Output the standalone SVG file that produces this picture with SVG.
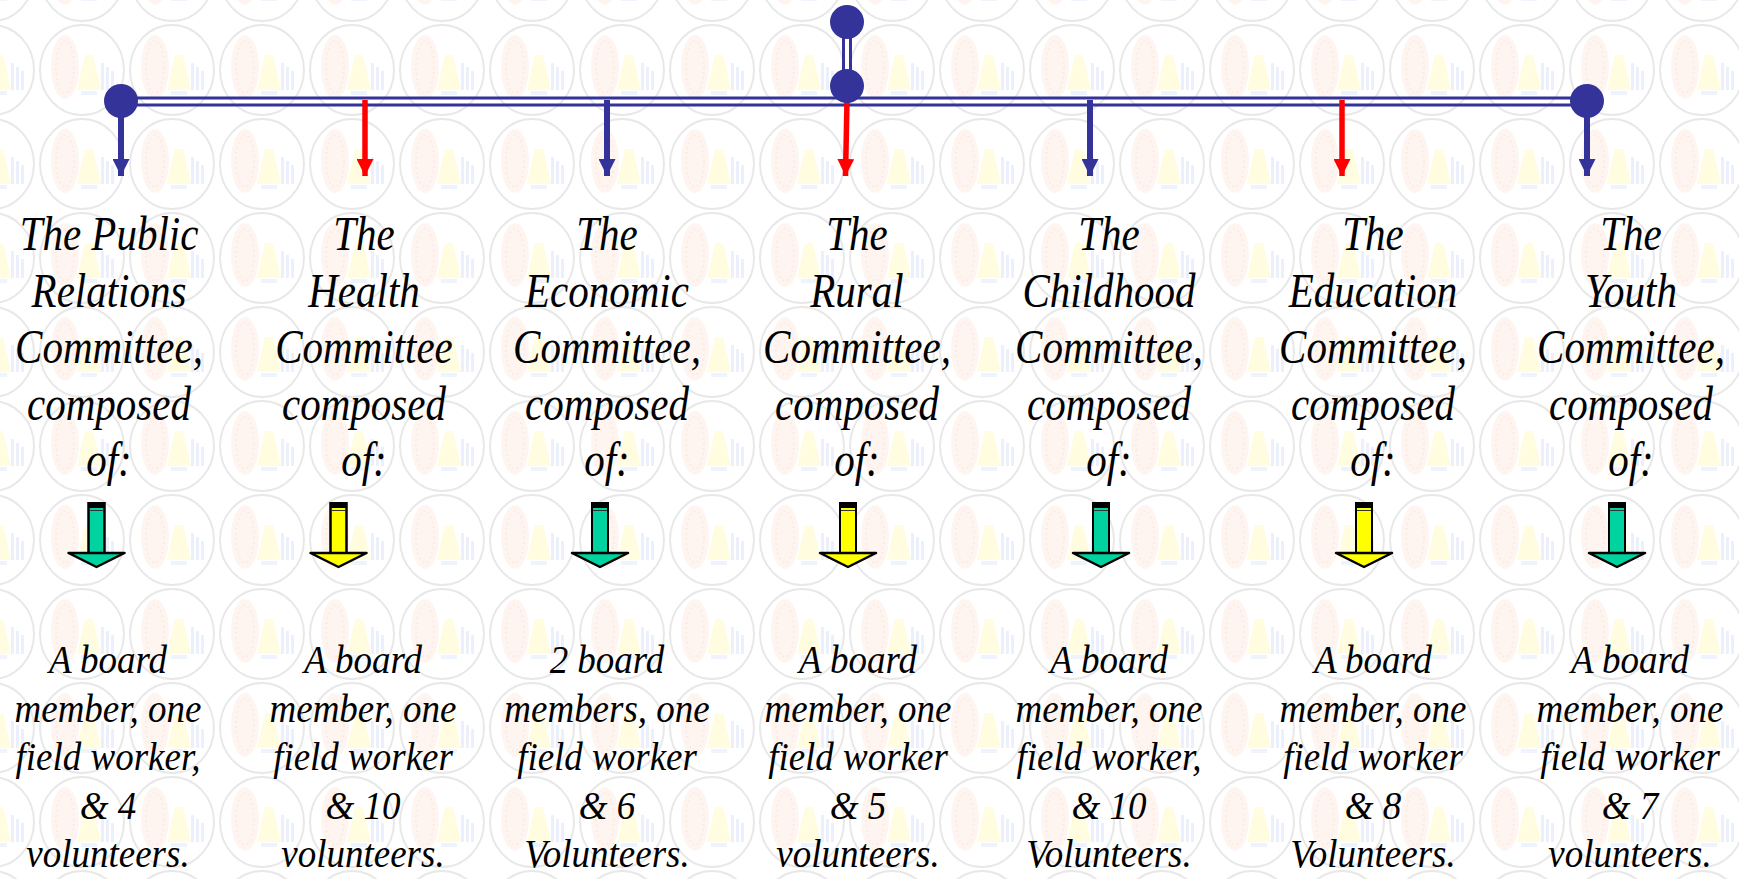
<svg xmlns="http://www.w3.org/2000/svg" width="1739" height="879" viewBox="0 0 1739 879">
<defs>
<pattern id="wm" patternUnits="userSpaceOnUse" x="37" y="23" width="90" height="94">
<ellipse cx="45" cy="47" rx="42" ry="45" fill="none" stroke="#e8e8e8" stroke-width="2"/>
<g opacity="0.4">
<ellipse cx="28" cy="44" rx="14" ry="32" fill="#fde6dc"/>
<ellipse cx="28" cy="44" rx="9" ry="26" fill="none" stroke="#f8cdbd" stroke-width="2" stroke-dasharray="2 3"/>
<polygon points="48,32 56,32 64,67 40,67" fill="#fff6b0"/>
<rect x="64" y="40" width="3" height="27" fill="#cfdaf8"/>
<rect x="69" y="44" width="3" height="23" fill="#cfdaf8"/>
<rect x="74" y="48" width="3" height="19" fill="#cfdaf8"/>
<rect x="44" y="68" width="16" height="4" fill="#d5e0f8"/>
</g>
</pattern>
<marker id="hb" viewBox="0 0 17 17" refX="17" refY="8.5" markerWidth="17" markerHeight="17" markerUnits="userSpaceOnUse" orient="auto">
<path d="M0,0 L17,8.5 L0,17 Z" fill="#333399"/>
</marker>
<marker id="hr" viewBox="0 0 17 17" refX="17" refY="8.5" markerWidth="17" markerHeight="17" markerUnits="userSpaceOnUse" orient="auto">
<path d="M0,0 L17,8.5 L0,17 Z" fill="#ff0000"/>
</marker>
<g id="fat">
<rect x="-8" y="0" width="16" height="51" stroke="#000" stroke-width="2"/>
<polygon points="-28,50 28,50 0,64" stroke="#000" stroke-width="2.5" stroke-linejoin="round"/>
<rect x="-8" y="0" width="16" height="50" fill="none" stroke="#000" stroke-width="2"/>
<rect x="-8" y="0" width="16" height="5" fill="#000"/>
<line x1="-7" y1="7.5" x2="7" y2="7.5" stroke="#333" stroke-width="1"/>
</g>
</defs>
<style>
.up{font-family:"Liberation Serif",serif;font-style:italic;font-size:41px;fill:#000;text-anchor:middle}
.lo{font-family:"Liberation Serif",serif;font-style:italic;font-size:37px;fill:#000;text-anchor:middle}
.bl{stroke:#333399;stroke-width:6;fill:none}
.rd{stroke:#ff0000;stroke-width:5.5;fill:none}
.dl{stroke:#333399;stroke-width:3;fill:none}
.dot{fill:#333399}
.g{fill:#00d2a0}
.y{fill:#ffff00}
</style>
<rect width="1739" height="879" fill="#ffffff"/>
<rect width="1739" height="879" fill="url(#wm)"/>

<g id="connectors">
<line class="dl" x1="121" y1="98" x2="1587" y2="98"/>
<line class="dl" x1="121" y1="105" x2="1587" y2="105"/>
<line class="dl" x1="843.5" y1="22" x2="843.5" y2="86"/>
<line class="dl" x1="850.5" y1="22" x2="850.5" y2="86"/>
<line class="bl" x1="121" y1="101" x2="121" y2="176" marker-end="url(#hb)"/>
<line class="rd" x1="365" y1="100" x2="365" y2="176" marker-end="url(#hr)"/>
<line class="bl" x1="607" y1="100" x2="607" y2="176" marker-end="url(#hb)"/>
<line class="rd" x1="847" y1="100" x2="845.5" y2="176" marker-end="url(#hr)"/>
<line class="bl" x1="1090" y1="100" x2="1090" y2="176" marker-end="url(#hb)"/>
<line class="rd" x1="1342" y1="100" x2="1342" y2="176" marker-end="url(#hr)"/>
<line class="bl" x1="1587" y1="101" x2="1587" y2="176" marker-end="url(#hb)"/>
<circle class="dot" cx="121" cy="101" r="17"/>
<circle class="dot" cx="1587" cy="101" r="17"/>
<circle class="dot" cx="847" cy="22" r="17"/>
<circle class="dot" cx="847" cy="86" r="17"/>
</g>

<g id="fat-arrows">
<use href="#fat" class="g" x="96.5" y="503"/>
<use href="#fat" class="y" x="338.5" y="503"/>
<use href="#fat" class="g" x="600" y="503"/>
<use href="#fat" class="y" x="848" y="503"/>
<use href="#fat" class="g" x="1101" y="503"/>
<use href="#fat" class="y" x="1364" y="503"/>
<use href="#fat" class="g" x="1617" y="503"/>
</g>

<g id="node-public-relations">
<text class="up" transform="translate(109,250) scale(1,1.17)"><tspan x="0" y="0">The Public</tspan><tspan x="0" dy="48.3">Relations</tspan><tspan x="0" dy="48.3">Committee,</tspan><tspan x="0" dy="48.3">composed</tspan><tspan x="0" dy="48.3">of:</tspan></text>
<text class="lo" transform="translate(108,673) scale(1,1.06)"><tspan x="0" y="0">A board</tspan><tspan x="0" dy="45.8">member, one</tspan><tspan x="0" dy="45.8">field worker,</tspan><tspan x="0" dy="45.8">&amp; 4</tspan><tspan x="0" dy="45.8">volunteers.</tspan></text>
</g>

<g id="node-health">
<text class="up" transform="translate(364,250) scale(1,1.17)"><tspan x="0" y="0">The</tspan><tspan x="0" dy="48.3">Health</tspan><tspan x="0" dy="48.3">Committee</tspan><tspan x="0" dy="48.3">composed</tspan><tspan x="0" dy="48.3">of:</tspan></text>
<text class="lo" transform="translate(363,673) scale(1,1.06)"><tspan x="0" y="0">A board</tspan><tspan x="0" dy="45.8">member, one</tspan><tspan x="0" dy="45.8">field worker</tspan><tspan x="0" dy="45.8">&amp; 10</tspan><tspan x="0" dy="45.8">volunteers.</tspan></text>
</g>

<g id="node-economic">
<text class="up" transform="translate(607,250) scale(1,1.17)"><tspan x="0" y="0">The</tspan><tspan x="0" dy="48.3">Economic</tspan><tspan x="0" dy="48.3">Committee,</tspan><tspan x="0" dy="48.3">composed</tspan><tspan x="0" dy="48.3">of:</tspan></text>
<text class="lo" transform="translate(607,673) scale(1,1.06)"><tspan x="0" y="0">2 board</tspan><tspan x="0" dy="45.8">members, one</tspan><tspan x="0" dy="45.8">field worker</tspan><tspan x="0" dy="45.8">&amp; 6</tspan><tspan x="0" dy="45.8">Volunteers.</tspan></text>
</g>

<g id="node-rural">
<text class="up" transform="translate(857,250) scale(1,1.17)"><tspan x="0" y="0">The</tspan><tspan x="0" dy="48.3">Rural</tspan><tspan x="0" dy="48.3">Committee,</tspan><tspan x="0" dy="48.3">composed</tspan><tspan x="0" dy="48.3">of:</tspan></text>
<text class="lo" transform="translate(858,673) scale(1,1.06)"><tspan x="0" y="0">A board</tspan><tspan x="0" dy="45.8">member, one</tspan><tspan x="0" dy="45.8">field worker</tspan><tspan x="0" dy="45.8">&amp; 5</tspan><tspan x="0" dy="45.8">volunteers.</tspan></text>
</g>

<g id="node-childhood">
<text class="up" transform="translate(1109,250) scale(1,1.17)"><tspan x="0" y="0">The</tspan><tspan x="0" dy="48.3">Childhood</tspan><tspan x="0" dy="48.3">Committee,</tspan><tspan x="0" dy="48.3">composed</tspan><tspan x="0" dy="48.3">of:</tspan></text>
<text class="lo" transform="translate(1109,673) scale(1,1.06)"><tspan x="0" y="0">A board</tspan><tspan x="0" dy="45.8">member, one</tspan><tspan x="0" dy="45.8">field worker,</tspan><tspan x="0" dy="45.8">&amp; 10</tspan><tspan x="0" dy="45.8">Volunteers.</tspan></text>
</g>

<g id="node-education">
<text class="up" transform="translate(1373,250) scale(1,1.17)"><tspan x="0" y="0">The</tspan><tspan x="0" dy="48.3">Education</tspan><tspan x="0" dy="48.3">Committee,</tspan><tspan x="0" dy="48.3">composed</tspan><tspan x="0" dy="48.3">of:</tspan></text>
<text class="lo" transform="translate(1373,673) scale(1,1.06)"><tspan x="0" y="0">A board</tspan><tspan x="0" dy="45.8">member, one</tspan><tspan x="0" dy="45.8">field worker</tspan><tspan x="0" dy="45.8">&amp; 8</tspan><tspan x="0" dy="45.8">Volunteers.</tspan></text>
</g>

<g id="node-youth">
<text class="up" transform="translate(1631,250) scale(1,1.17)"><tspan x="0" y="0">The</tspan><tspan x="0" dy="48.3">Youth</tspan><tspan x="0" dy="48.3">Committee,</tspan><tspan x="0" dy="48.3">composed</tspan><tspan x="0" dy="48.3">of:</tspan></text>
<text class="lo" transform="translate(1630,673) scale(1,1.06)"><tspan x="0" y="0">A board</tspan><tspan x="0" dy="45.8">member, one</tspan><tspan x="0" dy="45.8">field worker</tspan><tspan x="0" dy="45.8">&amp; 7</tspan><tspan x="0" dy="45.8">volunteers.</tspan></text>
</g>
</svg>
